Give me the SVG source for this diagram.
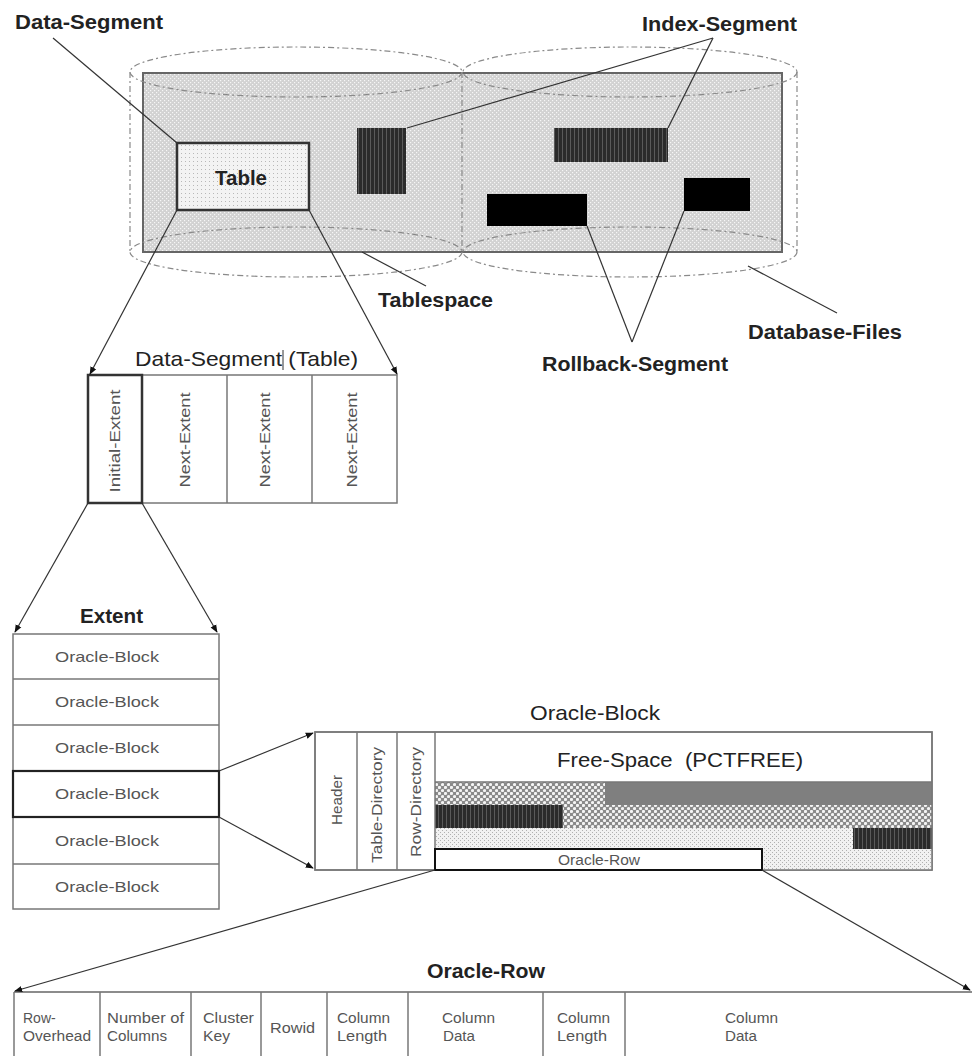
<svg xmlns="http://www.w3.org/2000/svg" width="972" height="1056" viewBox="0 0 972 1056">
<style>
.lbl{font-family:"Liberation Sans",Arial,sans-serif;font-weight:bold;fill:#222}
.ttl{font-family:"Liberation Sans",Arial,sans-serif;fill:#222}
.sm{font-family:"Liberation Sans",Arial,sans-serif;fill:#555}
.cn{stroke:#333;stroke-width:1.2;fill:none}
.arr{stroke:#333;stroke-width:1.2;fill:none;marker-end:url(#ah)}
.dash{stroke:#8a8a8a;stroke-width:1.2;fill:none;stroke-dasharray:6 3 2 3}
.cell{fill:#fff;stroke:#777;stroke-width:1.5}
.div{stroke:#777;stroke-width:1.5}
</style>
<defs>
<marker id="ah" viewBox="0 0 10 10" refX="9" refY="5" markerWidth="8" markerHeight="8" orient="auto" markerUnits="userSpaceOnUse">
<path d="M0,1 L10,5 L0,9 z" fill="#111"/>
</marker>
<pattern id="pTs" width="4" height="4" patternUnits="userSpaceOnUse">
<rect width="4" height="4" fill="#d2d2d2"/>
<rect x="0" y="0" width="1.2" height="1.2" fill="#f6f6f6"/>
<rect x="2" y="2" width="1.2" height="1.2" fill="#f6f6f6"/>
</pattern>
<pattern id="pTb" width="4" height="4" patternUnits="userSpaceOnUse">
<rect width="4" height="4" fill="#f3f3f3"/>
<rect x="1" y="1" width="1" height="1" fill="#b8b8b8"/>
</pattern>
<pattern id="pSt" width="4" height="4" patternUnits="userSpaceOnUse">
<rect width="4" height="4" fill="#2b2b2b"/>
<rect x="2" y="0" width="1" height="4" fill="#5a5a5a"/>
</pattern>
<pattern id="pCr" width="6" height="6" patternUnits="userSpaceOnUse">
<rect width="6" height="6" fill="#8a8a8a"/>
<circle cx="1.5" cy="1.5" r="1.6" fill="#f4f4f4"/>
<circle cx="4.5" cy="4.5" r="1.6" fill="#f4f4f4"/>
</pattern>
<pattern id="pLd" width="4" height="4" patternUnits="userSpaceOnUse">
<rect width="4" height="4" fill="#f1f1f1"/>
<rect x="0" y="0" width="1" height="1" fill="#b0b0b0"/>
<rect x="2" y="2" width="1" height="1" fill="#b0b0b0"/>
</pattern>
</defs>

<!-- Tablespace / Database files -->
<g id="tablespace">
<rect x="143" y="73" width="639" height="179" fill="url(#pTs)" stroke="#666" stroke-width="2"/>
<ellipse class="dash" cx="296" cy="72" rx="166" ry="25"/>
<ellipse class="dash" cx="630" cy="72" rx="167" ry="25"/>
<ellipse class="dash" cx="296" cy="252" rx="166" ry="25"/>
<ellipse class="dash" cx="630" cy="252" rx="167" ry="25"/>
<line class="dash" x1="130" y1="72" x2="130" y2="252"/>
<line class="dash" x1="462" y1="72" x2="462" y2="252"/>
<line class="dash" x1="797" y1="72" x2="797" y2="252"/>
</g>
<g id="table">
<rect x="177" y="143" width="132" height="67" fill="url(#pTb)" stroke="#333" stroke-width="2.5"/>
<text class="lbl" x="215" y="185" font-size="20" textLength="52" lengthAdjust="spacingAndGlyphs">Table</text>
</g>
<g id="index-seg-1"><rect x="357" y="128" width="49" height="66" fill="url(#pSt)"/></g>
<g id="index-seg-2"><rect x="554" y="128" width="114" height="34" fill="url(#pSt)"/></g>
<g id="rollback-seg-1"><rect x="487" y="194" width="100" height="32" fill="#000"/></g>
<g id="rollback-seg-2"><rect x="684" y="178" width="66" height="33" fill="#000"/></g>

<g id="top-labels">
<text class="lbl" x="15" y="29" font-size="21" textLength="148" lengthAdjust="spacingAndGlyphs">Data-Segment</text>
<text class="lbl" x="642" y="31" font-size="21" textLength="155" lengthAdjust="spacingAndGlyphs">Index-Segment</text>
<text class="lbl" x="378" y="307" font-size="21" textLength="115" lengthAdjust="spacingAndGlyphs">Tablespace</text>
<text class="lbl" x="748" y="339" font-size="21" textLength="154" lengthAdjust="spacingAndGlyphs">Database-Files</text>
<text class="lbl" x="542" y="371" font-size="21" textLength="186" lengthAdjust="spacingAndGlyphs">Rollback-Segment</text>
</g>

<!-- Data segment (Table) -->
<g id="data-segment">
<text class="ttl" x="135" y="366" font-size="21" textLength="223" lengthAdjust="spacingAndGlyphs">Data-Segment (Table)</text>
<line x1="283" y1="350" x2="283" y2="370" stroke="#333" stroke-width="1"/>
<rect class="cell" x="88" y="375" width="309" height="128"/>
<line class="div" x1="227" y1="375" x2="227" y2="503"/>
<line class="div" x1="312" y1="375" x2="312" y2="503"/>
<rect x="88" y="375" width="54" height="128" fill="none" stroke="#333" stroke-width="2.5"/>
<text class="sm" font-size="15" text-anchor="middle" transform="translate(120,441) rotate(-90)" textLength="103" lengthAdjust="spacingAndGlyphs">Initial-Extent</text>
<text class="sm" font-size="15" text-anchor="middle" transform="translate(190,440) rotate(-90)" textLength="95" lengthAdjust="spacingAndGlyphs">Next-Extent</text>
<text class="sm" font-size="15" text-anchor="middle" transform="translate(270,440) rotate(-90)" textLength="95" lengthAdjust="spacingAndGlyphs">Next-Extent</text>
<text class="sm" font-size="15" text-anchor="middle" transform="translate(357,440) rotate(-90)" textLength="95" lengthAdjust="spacingAndGlyphs">Next-Extent</text>
</g>

<!-- Extent -->
<g id="extent">
<text class="lbl" x="80" y="623" font-size="20" textLength="63" lengthAdjust="spacingAndGlyphs">Extent</text>
<rect class="cell" x="13" y="634" width="206" height="275"/>
<line class="div" x1="13" y1="679" x2="219" y2="679"/>
<line class="div" x1="13" y1="725" x2="219" y2="725"/>
<line class="div" x1="13" y1="864" x2="219" y2="864"/>
<rect x="13" y="771" width="206" height="46" fill="none" stroke="#222" stroke-width="2.2"/>
<text class="sm" x="107" y="662" font-size="15" text-anchor="middle" textLength="104" lengthAdjust="spacingAndGlyphs">Oracle-Block</text>
<text class="sm" x="107" y="707" font-size="15" text-anchor="middle" textLength="104" lengthAdjust="spacingAndGlyphs">Oracle-Block</text>
<text class="sm" x="107" y="753" font-size="15" text-anchor="middle" textLength="104" lengthAdjust="spacingAndGlyphs">Oracle-Block</text>
<text class="sm" x="107" y="799" font-size="15" text-anchor="middle" textLength="104" lengthAdjust="spacingAndGlyphs">Oracle-Block</text>
<text class="sm" x="107" y="846" font-size="15" text-anchor="middle" textLength="104" lengthAdjust="spacingAndGlyphs">Oracle-Block</text>
<text class="sm" x="107" y="892" font-size="15" text-anchor="middle" textLength="104" lengthAdjust="spacingAndGlyphs">Oracle-Block</text>
</g>

<!-- Oracle block -->
<g id="oracle-block">
<text class="ttl" x="595" y="720" font-size="21" text-anchor="middle" textLength="130" lengthAdjust="spacingAndGlyphs">Oracle-Block</text>
<rect class="cell" x="315" y="732" width="617" height="138"/>
<rect x="435" y="782" width="170" height="23" fill="url(#pCr)"/>
<rect x="605" y="782" width="327" height="23" fill="#7f7f7f"/>
<rect x="435" y="805" width="128" height="23" fill="url(#pSt)"/>
<rect x="563" y="805" width="369" height="23" fill="url(#pCr)"/>
<rect x="435" y="828" width="418" height="21" fill="url(#pLd)"/>
<rect x="853" y="828" width="79" height="21" fill="url(#pSt)"/>
<rect x="762" y="849" width="170" height="21" fill="url(#pLd)"/>
<rect x="315" y="732" width="617" height="138" fill="none" stroke="#777" stroke-width="1.5"/>
<line class="div" x1="435" y1="782" x2="932" y2="782"/>
<line class="div" x1="357" y1="732" x2="357" y2="870"/>
<line class="div" x1="397" y1="732" x2="397" y2="870"/>
<line class="div" x1="435" y1="732" x2="435" y2="870"/>
<text class="ttl" x="557" y="767" font-size="20" textLength="246" lengthAdjust="spacingAndGlyphs" xml:space="preserve">Free-Space  (PCTFREE)</text>
<text class="sm" font-size="15" text-anchor="middle" transform="translate(342,800) rotate(-90)" textLength="50" lengthAdjust="spacingAndGlyphs">Header</text>
<text class="sm" font-size="15" text-anchor="middle" transform="translate(382,805) rotate(-90)" textLength="116" lengthAdjust="spacingAndGlyphs">Table-Directory</text>
<text class="sm" font-size="15" text-anchor="middle" transform="translate(421,802) rotate(-90)" textLength="110" lengthAdjust="spacingAndGlyphs">Row-Directory</text>
</g>
<g id="oracle-row-box">
<rect x="435" y="849" width="327" height="21" fill="#fff" stroke="#111" stroke-width="2"/>
<text class="sm" x="599" y="865" font-size="14" text-anchor="middle" textLength="82" lengthAdjust="spacingAndGlyphs">Oracle-Row</text>
</g>

<!-- Oracle row -->
<g id="oracle-row">
<text class="lbl" x="427" y="978" font-size="21" textLength="118" lengthAdjust="spacingAndGlyphs">Oracle-Row</text>
<line x1="14" y1="992" x2="972" y2="992" stroke="#666" stroke-width="1.5"/>
<line class="div" x1="14" y1="992" x2="14" y2="1056"/>
<line class="div" x1="100" y1="992" x2="100" y2="1056"/>
<line class="div" x1="191" y1="992" x2="191" y2="1056"/>
<line class="div" x1="261" y1="992" x2="261" y2="1056"/>
<line class="div" x1="327" y1="992" x2="327" y2="1056"/>
<line class="div" x1="408" y1="992" x2="408" y2="1056"/>
<line class="div" x1="543" y1="992" x2="543" y2="1056"/>
<line class="div" x1="625" y1="992" x2="625" y2="1056"/>
<g class="sm" font-size="14">
<text x="23" y="1023">Row-</text>
<text x="23" y="1041" textLength="68" lengthAdjust="spacingAndGlyphs">Overhead</text>
<text x="107" y="1023" textLength="77" lengthAdjust="spacingAndGlyphs">Number of</text>
<text x="107" y="1041" textLength="60" lengthAdjust="spacingAndGlyphs">Columns</text>
<text x="203" y="1023" textLength="51" lengthAdjust="spacingAndGlyphs">Cluster</text>
<text x="203" y="1041" textLength="27" lengthAdjust="spacingAndGlyphs">Key</text>
<text x="270" y="1033" textLength="45" lengthAdjust="spacingAndGlyphs">Rowid</text>
<text x="337" y="1023" textLength="53" lengthAdjust="spacingAndGlyphs">Column</text>
<text x="337" y="1041" textLength="50" lengthAdjust="spacingAndGlyphs">Length</text>
<text x="442" y="1023" textLength="53" lengthAdjust="spacingAndGlyphs">Column</text>
<text x="443" y="1041" textLength="32" lengthAdjust="spacingAndGlyphs">Data</text>
<text x="557" y="1023" textLength="53" lengthAdjust="spacingAndGlyphs">Column</text>
<text x="557" y="1041" textLength="50" lengthAdjust="spacingAndGlyphs">Length</text>
<text x="725" y="1023" textLength="53" lengthAdjust="spacingAndGlyphs">Column</text>
<text x="725" y="1041" textLength="32" lengthAdjust="spacingAndGlyphs">Data</text>
</g>
</g>

<!-- Connectors -->
<g id="connectors">
<line class="cn" x1="53" y1="38" x2="177" y2="143"/>
<line class="cn" x1="713" y1="38" x2="407" y2="128"/>
<line class="cn" x1="713" y1="38" x2="668" y2="128"/>
<line class="cn" x1="632" y1="342" x2="587" y2="226"/>
<line class="cn" x1="632" y1="342" x2="684" y2="211"/>
<line class="cn" x1="426" y1="286" x2="362" y2="252"/>
<line class="cn" x1="837" y1="313" x2="748" y2="266"/>
<line class="arr" x1="177" y1="210" x2="90" y2="374"/>
<line class="arr" x1="309" y1="210" x2="397" y2="374"/>
<line class="arr" x1="88" y1="503" x2="15" y2="632"/>
<line class="arr" x1="142" y1="503" x2="217" y2="632"/>
<line class="arr" x1="219" y1="771" x2="313" y2="733"/>
<line class="arr" x1="219" y1="817" x2="313" y2="868"/>
<line class="arr" x1="435" y1="870" x2="15" y2="991"/>
<line class="arr" x1="762" y1="870" x2="970" y2="990"/>
</g>
</svg>
